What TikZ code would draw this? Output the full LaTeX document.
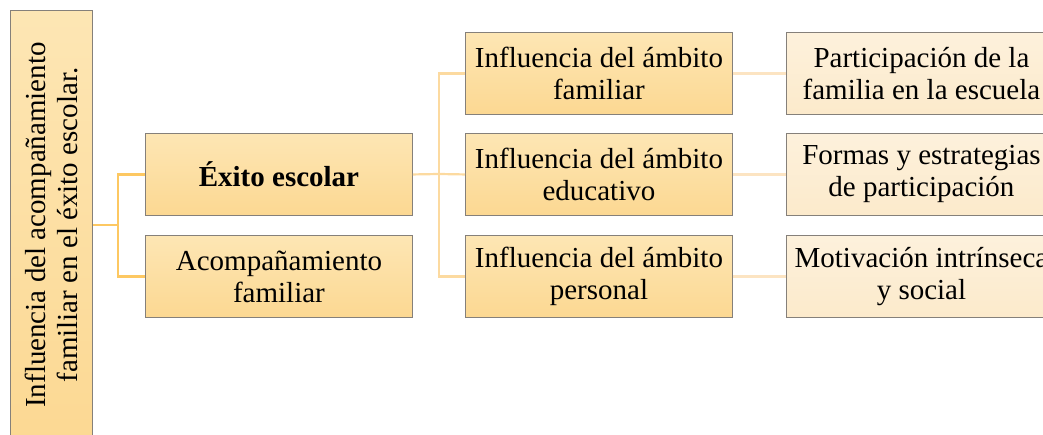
\documentclass[tikz,border=0pt]{standalone}
\usepackage{fontspec}
\setmainfont{Liberation Serif}
\usetikzlibrary{positioning}
\definecolor{boxtop}{HTML}{FDE6B4}
\definecolor{boxbot}{HTML}{FCD892}
\definecolor{lighttop}{HTML}{FDF1DC}
\definecolor{lightbot}{HTML}{FCEACB}
\definecolor{conA}{HTML}{FDC862}
\definecolor{conB}{HTML}{FCDAA0}
\definecolor{conC}{HTML}{FCE4C2}
\definecolor{bordergray}{HTML}{85807A}
\tikzset{
  box/.style={draw=bordergray, line width=0.9bp, top color=boxtop, bottom color=boxbot,
    minimum width=267bp, minimum height=82bp, inner sep=0pt, align=center,
    font=\fontsize{29bp}{32bp}\selectfont},
  lightbox/.style={box, top color=lighttop, bottom color=lightbot, minimum width=270bp},
  conn/.style={line width=2.2bp},
}
\begin{document}
\begin{tikzpicture}[x=1bp,y=-1bp]
\useasboundingbox (0,0) rectangle (1043,435);
% left tall box
\node[box, minimum width=82bp, minimum height=440bp, anchor=north west] (root) at (10,10) {};
\node[rotate=90, align=center, font=\fontsize{29bp}{32bp}\selectfont] (roottext) at (51,225)
  {Influencia del acompañamiento\\familiar en el éxito escolar.};
% level 1
\node[box, font=\bfseries\fontsize{29bp}{32bp}\selectfont, anchor=north west] (exito) at (145,133) {Éxito escolar};
\node[box, anchor=north west] (acomp) at (145,235) {Acompañamiento\\familiar};
% level 2
\node[box, anchor=north west] (fam) at (465,32) {Influencia del ámbito\\familiar};
\node[box, anchor=north west] (edu) at (465,133) {Influencia del ámbito\\educativo};
\node[box, anchor=north west] (per) at (465,235) {Influencia del ámbito\\personal};
% level 3
\node[lightbox, anchor=north west] (part) at (786,32) {Participación de la\\familia en la escuela};
\node[lightbox, anchor=north west] (formas) at (786,133) {Formas y estrategias\\de participación};
\node[lightbox, anchor=north west] (motiv) at (786,235) {Motivación intrínseca\\y social};
% connectors
\coordinate (j1) at (118,225);
\draw[conA, conn] (root.east |- j1) -- (j1);
\draw[conA, conn] (j1) |- (exito.west);
\draw[conA, conn] (j1) |- (acomp.west);
\coordinate (j2) at (439,174);
\draw[conB, conn] (exito.east) -- (j2);
\draw[conB, conn] (j2) |- (fam.west);
\draw[conB, conn] (j2) -- (edu.west);
\draw[conB, conn] (j2) |- (per.west);
\draw[conC, conn] (fam.east) -- (part.west);
\draw[conC, conn] (edu.east) -- (formas.west);
\draw[conC, conn] (per.east) -- (motiv.west);
\end{tikzpicture}
\end{document}
